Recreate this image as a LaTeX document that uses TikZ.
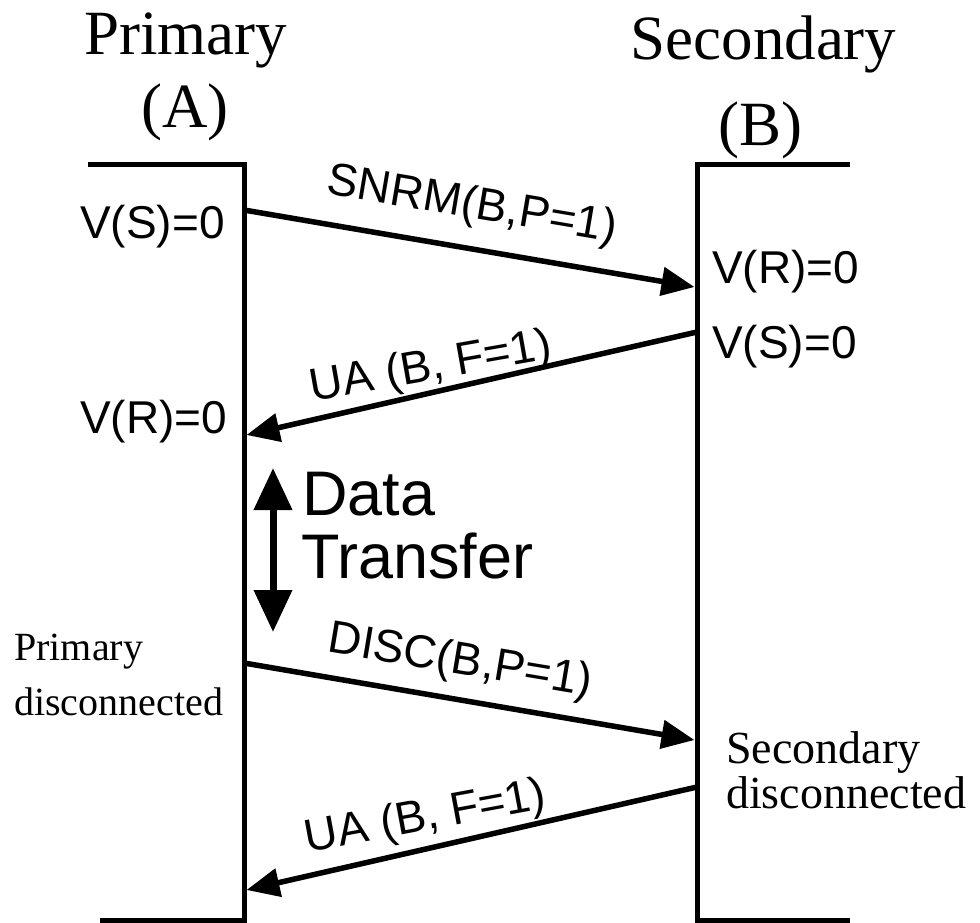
\documentclass[tikz,border=0pt]{standalone}
\usepackage{fontspec}
\setmainfont{Liberation Serif}
\newfontfamily\labelfont{Liberation Sans}
\usetikzlibrary{arrows.meta}

\begin{document}
\begin{tikzpicture}[x=1pt,y=-1pt,
  lifeline/.style={line width=5pt,line join=miter},
  msg/.style={line width=5.5pt,-{Triangle[length=33pt,width=28pt]}},
  span/.style={line width=7pt,{Triangle[length=42pt,width=37pt]}-{Triangle[length=42pt,width=37pt]}},
  title/.style={inner sep=0pt,anchor=base,font=\fontsize{63}{73}\selectfont},
  state/.style={inner sep=0pt,anchor=base west,font=\labelfont\fontsize{46}{50}\selectfont},
  msglabel/.style={inner sep=0pt,anchor=base,font=\labelfont\fontsize{46}{50}\selectfont},
  note/.style={inner sep=0pt,anchor=base west},
]
\useasboundingbox (0,0) rectangle (980,923);

% station titles
\node[title] (pA)  at (185.5,55)  {Primary};
\node[title] (pA2) at (185,128)   {(A)};
\node[title] (sB)  at (763.5,60)  {Secondary};
\node[title] (sB2) at (760.5,146) {(B)};

% lifelines drawn as brackets
\draw[lifeline] (88,165) -- (244,165) -- (244,920) -- (100,920);
\draw[lifeline] (850,165) -- (697,165) -- (697,920) -- (850,920);

% message end points on the lifelines
\coordinate (a1) at (244,210);   \coordinate (b1) at (694.5,287);
\coordinate (b2) at (697,332);   \coordinate (a2) at (246.5,435);
\coordinate (a3) at (244,663);   \coordinate (b3) at (694.5,740);
\coordinate (b4) at (697,787);   \coordinate (a4) at (246.5,890);
\coordinate (d1) at (273,468);   \coordinate (d2) at (273,632);

% messages
\draw[msg] (a1) -- (b1);
\draw[msg] (b2) -- (a2);
\draw[msg] (a3) -- (b3);
\draw[msg] (b4) -- (a4);
\draw[span] (d1) -- (d2);

% message labels
\node[msglabel,rotate=-9.6] (m1) at (470,218) {SNRM(B,P=1)};
\node[msglabel,rotate=10]   (m2) at (433,380) {UA (B, F=1)};
\node[msglabel,rotate=-9.5] (m3) at (458,674) {DISC(B,P=1)};
\node[msglabel,rotate=10.5] (m4) at (428,830) {UA (B, F=1)};

% state variables
\node[state] (vsA) at (80,238)  {V(S)=0};
\node[state] (vrB) at (712,283) {V(R)=0};
\node[state] (vsB) at (712,358) {V(S)=0};
\node[state] (vrA) at (80,433)  {V(R)=0};

% data transfer phase
\node[note,font=\labelfont\fontsize{63}{63}\selectfont] (dt1) at (302,515) {Data};
\node[note,font=\labelfont\fontsize{63}{63}\selectfont] (dt2) at (301,578) {Transfer};

% disconnection notes
\node[note,font=\fontsize{40}{44}\selectfont] (pd1) at (14,660) {Primary};
\node[note,font=\fontsize{40}{44}\selectfont] (pd2) at (14,715) {disconnected};
\node[note,font=\fontsize{46}{50}\selectfont] (sd1) at (726,763) {Secondary};
\node[note,font=\fontsize{46}{50}\selectfont] (sd2) at (726,808) {disconnected};
\end{tikzpicture}
\end{document}
